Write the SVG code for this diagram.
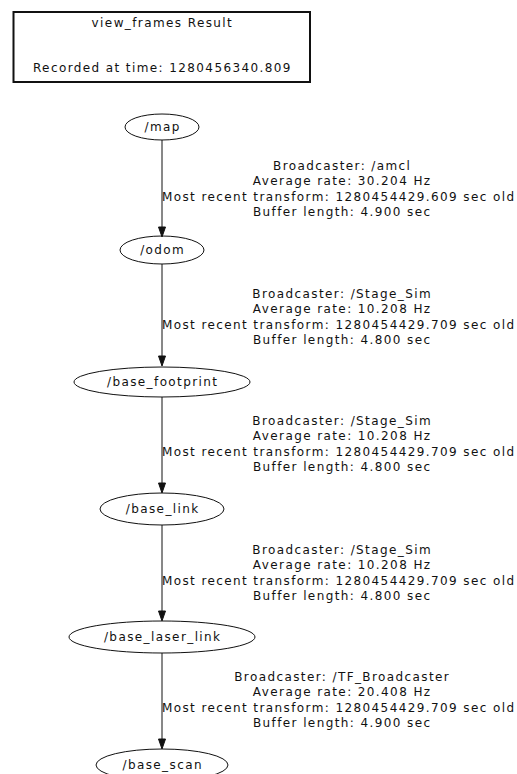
<svg xmlns="http://www.w3.org/2000/svg" width="517" height="774" viewBox="0 0 517 774">
<style>
text{font-family:"DejaVu Sans","Liberation Sans",sans-serif;font-size:12px;letter-spacing:1.4px;fill:#111;text-anchor:middle}
.n{fill:none;stroke:#111;stroke-width:1}
.e{stroke:#111;stroke-width:1;fill:none}
.ah{fill:#111;stroke:#111;stroke-width:1}
</style>
<rect width="517" height="774" fill="#fff"/>
<g id="header">
<rect x="13.5" y="12" width="296.5" height="70" fill="none" stroke="#111" stroke-width="2"/>
<text x="162.4" y="26.5">view_frames Result</text>
<text x="162.4" y="71.5">Recorded at time: 1280456340.809</text>
</g>
<g id="connectors">
<line class="e" x1="162" y1="140" x2="162" y2="227"/>
<polygon class="ah" points="158.5,227 165.5,227 162,237"/>
<line class="e" x1="162" y1="264" x2="162" y2="356"/>
<polygon class="ah" points="158.5,356 165.5,356 162,366"/>
<line class="e" x1="162" y1="397" x2="162" y2="483"/>
<polygon class="ah" points="158.5,483 165.5,483 162,493"/>
<line class="e" x1="162" y1="525" x2="162" y2="611"/>
<polygon class="ah" points="158.5,611 165.5,611 162,621"/>
<line class="e" x1="162" y1="653" x2="162" y2="739"/>
<polygon class="ah" points="158.5,739 165.5,739 162,749"/>
<g id="label_map_odom">
<text x="342.2" y="170">Broadcaster: /amcl</text>
<text x="342.2" y="185">Average rate: 30.204 Hz</text>
<text x="338.7" y="201">Most recent transform: 1280454429.609 sec old</text>
<text x="342.2" y="216">Buffer length: 4.900 sec</text>
</g>
<g id="label_odom_bf">
<text x="342.2" y="298">Broadcaster: /Stage_Sim</text>
<text x="342.2" y="313">Average rate: 10.208 Hz</text>
<text x="338.7" y="329">Most recent transform: 1280454429.709 sec old</text>
<text x="342.2" y="344">Buffer length: 4.800 sec</text>
</g>
<g id="label_bf_bl">
<text x="342.2" y="425">Broadcaster: /Stage_Sim</text>
<text x="342.2" y="440">Average rate: 10.208 Hz</text>
<text x="338.7" y="456">Most recent transform: 1280454429.709 sec old</text>
<text x="342.2" y="471">Buffer length: 4.800 sec</text>
</g>
<g id="label_bl_bll">
<text x="342.2" y="554">Broadcaster: /Stage_Sim</text>
<text x="342.2" y="569">Average rate: 10.208 Hz</text>
<text x="338.7" y="585">Most recent transform: 1280454429.709 sec old</text>
<text x="342.2" y="600">Buffer length: 4.800 sec</text>
</g>
<g id="label_bll_bs">
<text x="342.2" y="681">Broadcaster: /TF_Broadcaster</text>
<text x="342.2" y="696">Average rate: 20.408 Hz</text>
<text x="338.7" y="712">Most recent transform: 1280454429.709 sec old</text>
<text x="342.2" y="727">Buffer length: 4.900 sec</text>
</g>
</g>
<g id="map"><ellipse class="n" cx="162" cy="127" rx="37" ry="13"/><text x="162.7" y="131">/map</text></g>
<g id="odom"><ellipse class="n" cx="162" cy="250" rx="42" ry="14"/><text x="162.7" y="254">/odom</text></g>
<g id="base_footprint"><ellipse class="n" cx="162" cy="382" rx="88" ry="15"/><text x="162.7" y="386">/base_footprint</text></g>
<g id="base_link"><ellipse class="n" cx="162" cy="509" rx="62" ry="16"/><text x="162.7" y="513">/base_link</text></g>
<g id="base_laser_link"><ellipse class="n" cx="162" cy="637" rx="93" ry="16"/><text x="162.7" y="641">/base_laser_link</text></g>
<g id="base_scan"><ellipse class="n" cx="162" cy="765" rx="66" ry="16"/><text x="162.7" y="769">/base_scan</text></g>
</svg>
